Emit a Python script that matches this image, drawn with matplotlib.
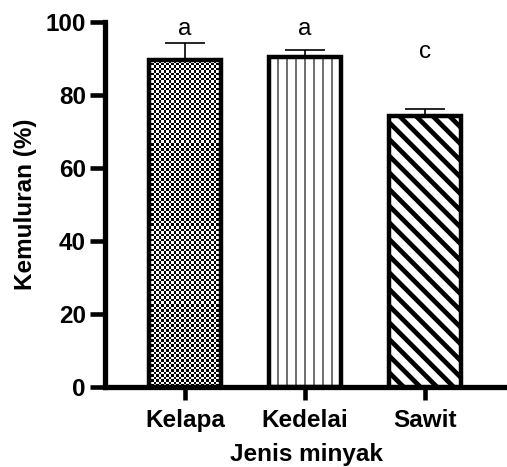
import numpy as np
import matplotlib
matplotlib.use("Agg")
import matplotlib.pyplot as plt

categories = ["Kelapa", "Kedelai", "Sawit"]
means = [89.5, 90.3, 74.3]
errors = [4.6, 1.9, 1.8]
letters = ["a", "a", "c"]
letter_y = [96.4, 96.4, 90.1]
yticks = [0, 20, 40, 60, 80, 100]

plt.rcParams['font.family'] = ['Liberation Sans', 'DejaVu Sans']
plt.rcParams['hatch.linewidth'] = 3.4

fig = plt.figure(figsize=(5.07, 4.67), dpi=100)
ax = fig.add_axes([105/507, 1-387/467, 1-105/507, (387-21.7)/467])

x = np.arange(len(categories))
bw = 0.6
edge_lw = 3.2
bars = ax.bar(x, means, width=bw, color='white', edgecolor='black',
              linewidth=edge_lw, zorder=3)

# Kelapa: checkerboard fill
b0 = bars[0]
ncols, nrows = 29, 130
checker = (np.add.outer(np.arange(nrows), np.arange(ncols)) % 2).astype(float)
im = ax.imshow(checker, cmap='gray', vmin=0, vmax=1, interpolation='nearest',
               extent=[x[0]-bw/2, x[0]+bw/2, 0, means[0]], aspect='auto', zorder=2)
im.set_clip_path(b0)
b0.set_facecolor('none')

# Kedelai: vertical lines
b1 = bars[1]
xs = np.linspace(x[1]-bw/2, x[1]+bw/2, 9)[1:-1]
vl = ax.vlines(xs, 0, means[1], colors='#555555', linewidth=1.2, zorder=2)
vl.set_clip_path(b1)
b1.set_facecolor('none')

# Sawit: diagonal stripes
b2 = bars[2]
b2.set_hatch('\\\\')

ax.errorbar(x, means, yerr=[np.zeros(len(errors)), errors], fmt='none',
            ecolor='black', elinewidth=1.2, capsize=14.4, capthick=1.2, zorder=2.5)

fs = 17.5
for xi, lt, ly in zip(x, letters, letter_y):
    ax.text(xi, ly, lt, ha='center', va='baseline', fontsize=fs)

ax.set_xlim(-0.667, 2.683)
ax.set_ylim(0, 100)
ax.set_yticks(yticks)
ax.set_xticks(x)
ax.set_xticklabels(categories, fontsize=fs, fontweight='bold')
ax.set_yticklabels([str(t) for t in yticks], fontsize=fs, fontweight='bold')
ax.tick_params(axis='y', length=10.8, width=3.3, pad=3)
ax.tick_params(axis='x', length=9.5, width=3.3, pad=6)
for s in ['top', 'right']:
    ax.spines[s].set_visible(False)
for s in ['left', 'bottom']:
    ax.spines[s].set_linewidth(3.8)
ax.spines['left'].set_capstyle('projecting')
ax.set_ylabel("Kemuluran (%)", fontsize=fs, fontweight='bold', labelpad=6)
ax.set_xlabel("Jenis minyak", fontsize=fs, fontweight='bold', labelpad=8.5)

fig.savefig("out.png", dpi=100)
